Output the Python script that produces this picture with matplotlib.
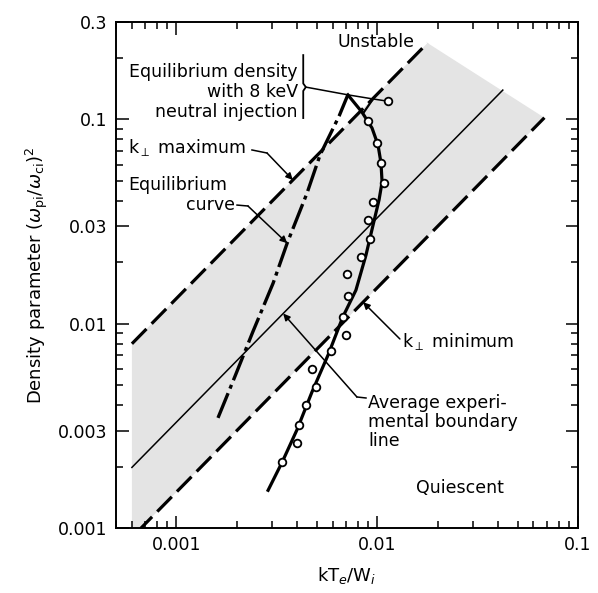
import numpy as np
import matplotlib
matplotlib.use("Agg")
import matplotlib.pyplot as plt
from matplotlib.ticker import FixedLocator, LogLocator, NullFormatter, FixedFormatter
from matplotlib.patches import Polygon

# boundary lines of the form y = c * x (log-log slope 1)
c_kmax = 13.3      # k_perp maximum
c_avg = 3.3        # average experimental boundary
c_kmin = 1.5       # k_perp minimum
kmax_x = [0.0006, 0.0178]
avg_x = [0.0006, 0.0422]
kmin_x = [0.00064, 0.068]

# equilibrium curve (no injection)
eq_x = [0.00161, 0.00196, 0.00240, 0.00303, 0.00356, 0.00447, 0.00519, 0.00646, 0.00714]
eq_y = [0.00346, 0.00555, 0.00912, 0.0158, 0.0248, 0.0436, 0.0670, 0.104, 0.132]

# equilibrium density with 8 keV neutral injection (smooth curve)
inj_x = [0.00714, 0.00839, 0.00942, 0.01009, 0.01044, 0.01057, 0.01021, 0.00953,
         0.00879, 0.00783, 0.00674, 0.00569, 0.00473, 0.00398, 0.00336, 0.00286]
inj_y = [0.132, 0.1087, 0.0908, 0.0750, 0.0612, 0.0494, 0.0404, 0.0304,
         0.0217, 0.0146, 0.0108, 0.00703, 0.00463, 0.00302, 0.00210, 0.00153]

# measured points
pts_x = [0.01132, 0.00900, 0.00998, 0.01044, 0.01081, 0.00953, 0.00900, 0.00921, 0.00830,
         0.00706, 0.00714, 0.00674, 0.00698, 0.00589, 0.00473, 0.00495, 0.00442, 0.00407,
         0.00398, 0.00336]
pts_y = [0.123, 0.0982, 0.0767, 0.0612, 0.0489, 0.0394, 0.0322, 0.0260, 0.0212,
         0.0175, 0.0137, 0.0108, 0.00881, 0.00736, 0.00601, 0.00490, 0.00400, 0.00319,
         0.00261, 0.00210]

xticks = [0.001, 0.01, 0.1]
xticklabels = ["0.001", "0.01", "0.1"]
yticks = [0.001, 0.003, 0.01, 0.03, 0.1, 0.3]
yticklabels = ["0.001", "0.003", "0.01", "0.03", "0.1", "0.3"]

fs = 12.5

plt.rcParams["hatch.linewidth"] = 0.6
plt.rcParams["hatch.color"] = "#9a9a9a"

fig = plt.figure(figsize=(5.98, 5.93), dpi=100)
ax = fig.add_axes([0.194, 0.1096, 0.7726, 0.8533])
ax.set_xscale("log")
ax.set_yscale("log")
ax.set_xlim(0.0005, 0.1)
ax.set_ylim(0.001, 0.3)

# stippled band between k_perp max and k_perp min
band = Polygon([(kmax_x[0], c_kmax * kmax_x[0]), (kmax_x[1], c_kmax * kmax_x[1]),
                (kmin_x[1], c_kmin * kmin_x[1]), (kmax_x[0], c_kmin * kmax_x[0])],
               closed=True, facecolor="#e4e4e4", edgecolor="none", hatch="....",
               zorder=0)
ax.add_patch(band)

kx = np.array(kmax_x)
ax.plot(kx, c_kmax * kx, color="black", lw=2.3, dashes=(6.5, 2.3), zorder=2)
kx = np.array(kmin_x)
ax.plot(kx, c_kmin * kx, color="black", lw=2.3, dashes=(6.5, 2.3), zorder=2)
ax_ = np.array(avg_x)
ax.plot(ax_, c_avg * ax_, color="black", lw=1.1, zorder=2)

ax.plot(eq_x, eq_y, color="black", lw=2.4, dashes=(8, 1.5, 1.2, 1.5), zorder=3)
ax.plot(inj_x, inj_y, color="black", lw=2.3, zorder=3)
ax.plot(pts_x, pts_y, "o", ms=5.5, mfc="white", mec="black", mew=1.3, zorder=4)

# labels and leaders
tkw = dict(fontsize=fs, color="black")
ax.text(0.00986, 0.239, "Unstable", ha="center", va="center", **tkw)
ax.text(0.00403, 0.136, "Equilibrium density\nwith 8 keV\nneutral injection",
        ha="right", va="center", multialignment="right", linespacing=1.15, **tkw)
ax.plot([0.00428, 0.00428, 0.00441, 0.00428, 0.00428],
        [0.2066, 0.150, 0.144, 0.138, 0.1016], color="black", lw=1.3)
ax.plot([0.00441, 0.00714, 0.00953, 0.01090], [0.144, 0.132, 0.126, 0.1235],
        color="black", lw=1.1)
ax.plot([0.00953, 0.00859], [0.126, 0.1087], color="black", lw=1.6)

ax.text(0.000574, 0.0725, r"k$_{\perp}$ maximum", ha="left", va="center", **tkw)
ax.plot([0.002377, 0.002825], [0.0709, 0.0685], color="black", lw=1.1)
ax.annotate("", xy=(0.0038, c_kmax * 0.0038), xytext=(0.002825, 0.0685),
            arrowprops=dict(arrowstyle="-|>", color="black", lw=1.1,
                            mutation_scale=10, shrinkA=0, shrinkB=0))

ax.text(0.000574, 0.0478, "Equilibrium", ha="left", va="center", **tkw)
ax.text(0.00196, 0.0381, "curve", ha="right", va="center", **tkw)
ax.plot([0.002003, 0.00227], [0.0381, 0.0377], color="black", lw=1.1)
ax.annotate("", xy=(eq_x[4], eq_y[4]), xytext=(0.00227, 0.0377),
            arrowprops=dict(arrowstyle="-|>", color="black", lw=1.1,
                            mutation_scale=10, shrinkA=0, shrinkB=0))

ax.text(0.01327, 0.00814, r"k$_{\perp}$ minimum", ha="left", va="center", **tkw)
ax.annotate("", xy=(0.0085, c_kmin * 0.0085), xytext=(0.01297, 0.00842),
            arrowprops=dict(arrowstyle="-|>", color="black", lw=1.1,
                            mutation_scale=10, shrinkA=0, shrinkB=0))

ax.text(0.0090, 0.0033, "Average experi-\nmental boundary\nline",
        ha="left", va="center", linespacing=1.1, **tkw)
ax.plot([0.00879, 0.00792], [0.00433, 0.00438], color="black", lw=1.1)
ax.annotate("", xy=(0.0034, c_avg * 0.0034), xytext=(0.00792, 0.00438),
            arrowprops=dict(arrowstyle="-|>", color="black", lw=1.1,
                            mutation_scale=10, shrinkA=0, shrinkB=0))

ax.text(0.0258, 0.00157, "Quiescent", ha="center", va="center", **tkw)

# axes and ticks
ax.xaxis.set_major_locator(FixedLocator(xticks))
ax.xaxis.set_major_formatter(FixedFormatter(xticklabels))
ax.xaxis.set_minor_locator(LogLocator(base=10, subs=np.arange(2, 10)))
ax.xaxis.set_minor_formatter(NullFormatter())
ax.yaxis.set_major_locator(FixedLocator(yticks))
ax.yaxis.set_major_formatter(FixedFormatter(yticklabels))
ax.yaxis.set_minor_locator(LogLocator(base=10, subs=np.arange(2, 10)))
ax.yaxis.set_minor_formatter(NullFormatter())
ax.tick_params(which="both", direction="in", top=True, right=True,
               labelsize=fs, width=1.1, pad=6)
ax.tick_params(which="major", length=9)
ax.tick_params(which="minor", length=5)
for s in ax.spines.values():
    s.set_linewidth(1.4)

ax.set_xlabel(r"kT$_e$/W$_i$", fontsize=13, labelpad=8)
ax.set_ylabel(r"Density parameter $(\omega_{\rm pi}/\omega_{\rm ci})^2$",
              fontsize=13, labelpad=6)

fig.savefig("out.png", dpi=100)
